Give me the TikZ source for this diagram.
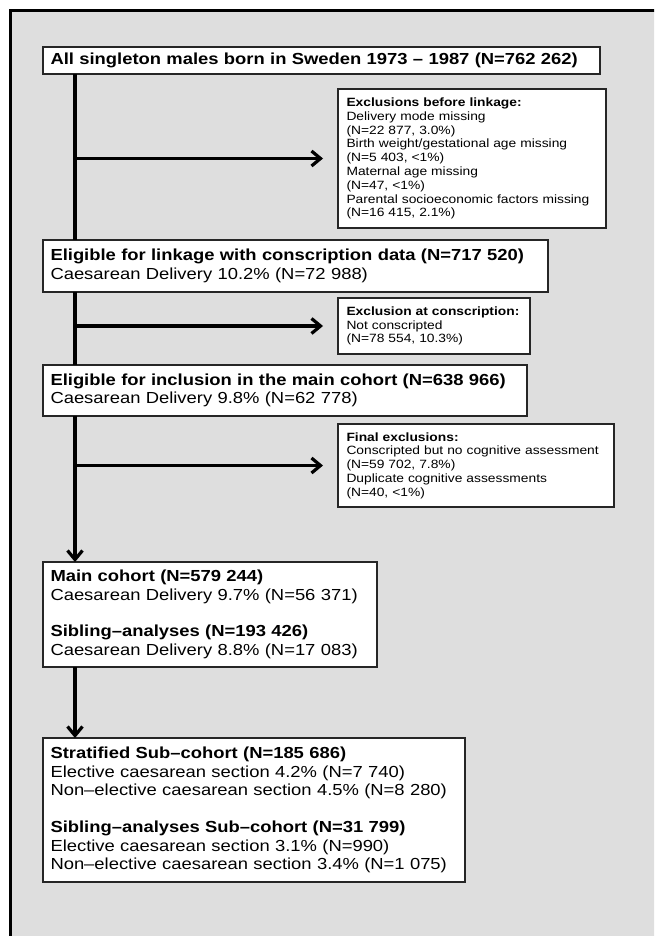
\documentclass[tikz,border=0pt]{standalone}
\usepackage{fontspec}
\setmainfont{Liberation Sans}[FakeStretch=1.15]
\usetikzlibrary{arrows.meta}
\definecolor{bggray}{HTML}{DEDEDE}
\newcommand{\bigfs}{\fontsize{16}{18.6}\selectfont}
\newcommand{\smallfs}{\fontsize{12}{13.8}\selectfont}
\begin{document}
\begin{tikzpicture}[x=1pt,y=-1pt,
  boxbase/.style={draw=black!85, line width=1.2pt, fill=white, anchor=north west,
    inner ysep=0pt, align=left, outer sep=0pt},
  bigbox/.style={boxbase, inner xsep=7.5pt, font=\bigfs},
  smallbox/.style={boxbase, inner xsep=8.5pt, font=\smallfs},
  trunk/.style={line width=3.2pt, black},
  arrowed/.style={-{Straight Barb[length=9pt,width=15pt]}}
]
\useasboundingbox (0,0) rectangle (654,936);
\clip (0,0) rectangle (654,936);
\draw[line width=3pt, fill=bggray] (10,11) rectangle (690,970);

\coordinate (tx) at (75,0);

\node[bigbox, minimum width=557pt, text width=542pt, minimum height=27pt] (b1) at (43,47)
  {\textbf{All singleton males born in Sweden 1973 – 1987 (N=762 262)}};
\node[smallbox, minimum width=268pt, text width=251pt, minimum height=139pt] (e1) at (338,89)
  {\textbf{Exclusions before linkage:}\\
   Delivery mode missing\\
   (N=22 877, 3.0\%)\\
   Birth weight/gestational age missing\\
   (N=5 403, <1\%)\\
   Maternal age missing\\
   (N=47, <1\%)\\
   Parental socioeconomic factors missing\\
   (N=16 415, 2.1\%)};
\node[bigbox, minimum width=505pt, text width=490pt, minimum height=52pt] (b2) at (43,240)
  {\textbf{Eligible for linkage with conscription data (N=717 520)}\\
   Caesarean Delivery 10.2\% (N=72 988)};
\node[smallbox, minimum width=192pt, text width=175pt, minimum height=56pt] (e2) at (338,298)
  {\textbf{Exclusion at conscription:}\\
   Not conscripted\\
   (N=78 554, 10.3\%)};
\node[bigbox, minimum width=484pt, text width=469pt, minimum height=51pt] (b3) at (43,365)
  {\textbf{Eligible for inclusion in the main cohort (N=638 966)}\\
   Caesarean Delivery 9.8\% (N=62 778)};
\node[smallbox, minimum width=276pt, text width=259pt, minimum height=83pt] (e3) at (338,424)
  {\textbf{Final exclusions:}\\
   Conscripted but no cognitive assessment\\
   (N=59 702, 7.8\%)\\
   Duplicate cognitive assessments\\
   (N=40, <1\%)};
\node[bigbox, minimum width=334pt, text width=319pt, minimum height=105pt] (mc) at (43,562)
  {\textbf{Main cohort (N=579 244)}\\
   Caesarean Delivery 9.7\% (N=56 371)\\[18pt]
   \textbf{Sibling–analyses (N=193 426)}\\
   Caesarean Delivery 8.8\% (N=17 083)};
\node[bigbox, minimum width=422pt, text width=407pt, minimum height=144pt] (sc) at (43,738)
  {\textbf{Stratified Sub–cohort (N=185 686)}\\
   Elective caesarean section 4.2\% (N=7 740)\\
   Non–elective caesarean section 4.5\% (N=8 280)\\[18pt]
   \textbf{Sibling–analyses Sub–cohort (N=31 799)}\\
   Elective caesarean section 3.1\% (N=990)\\
   Non–elective caesarean section 3.4\% (N=1 075)};

\draw[trunk] (b1.south -| tx) -- (b2.north -| tx);
\draw[trunk] (b2.south -| tx) -- (b3.north -| tx);
\draw[trunk, arrowed] (b3.south -| tx) -- (mc.north -| tx);
\draw[trunk, arrowed] (mc.south -| tx) -- (sc.north -| tx);
\draw[trunk, arrowed, shorten >=15pt] (e1.west -| tx) -- (e1.west);
\draw[trunk, arrowed, shorten >=15pt] (e2.west -| tx) -- (e2.west);
\draw[trunk, arrowed, shorten >=15pt] (e3.west -| tx) -- (e3.west);
\end{tikzpicture}
\end{document}
